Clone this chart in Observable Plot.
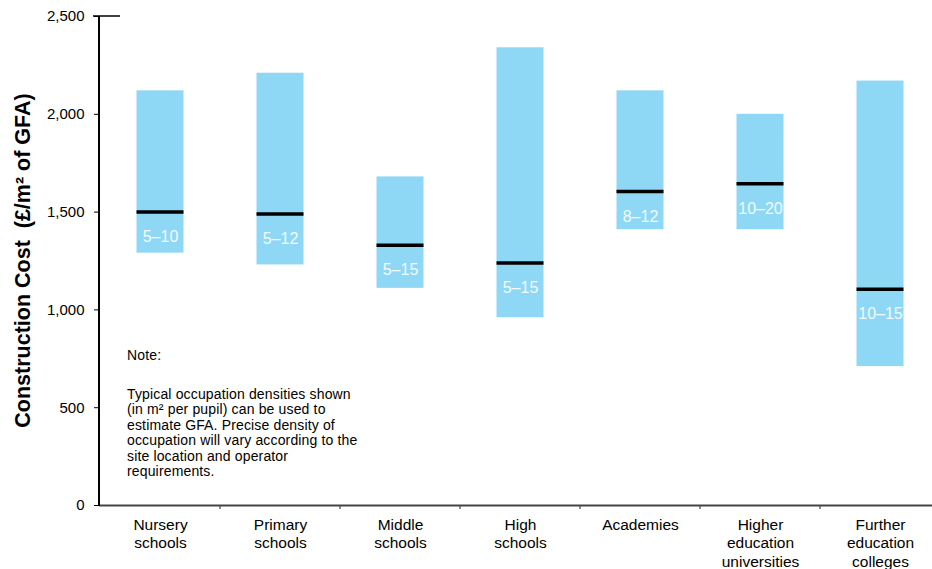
<!DOCTYPE html>
<html>
<head>
<meta charset="utf-8">
<script src="https://cdn.jsdelivr.net/npm/d3@7"></script>
<script src="https://cdn.jsdelivr.net/npm/@observablehq/plot@0.6"></script>
<style>
  body { margin: 0; background: #fff; }
  #wrap { position: relative; width: 932px; height: 569px; font-family: "Liberation Sans", Arial, sans-serif; }
  #note { position: absolute; left: 127px; top: 348px; font-size: 14px; line-height: 15.5px; letter-spacing: 0.15px; color: #000; width: 260px; }
  #note .gap { height: 23px; }
  svg { overflow: visible; }
</style>
</head>
<body>
<div id="wrap">
  <div id="chart"></div>
  <div id="note">Note:<div class="gap"></div>Typical occupation densities shown<br>(in m² per pupil) can be used to<br>estimate GFA. Precise density of<br>occupation will vary according to the<br>site location and operator<br>requirements.</div>
</div>
<script>
const categories = ["Nursery schools", "Primary schools", "Middle schools", "High schools", "Academies", "Higher education universities", "Further education colleges"];
const categoryLabels = ["Nursery\nschools", "Primary\nschools", "Middle\nschools", "High\nschools", "Academies", "Higher\neducation\nuniversities", "Further\neducation\ncolleges"];
const lowCost = [1290, 1230, 1110, 960, 1410, 1410, 710];
const highCost = [2120, 2210, 1680, 2340, 2120, 2000, 2170];
const typicalCost = [1500, 1490, 1330, 1240, 1605, 1645, 1105];
const densityLabels = ["5–10", "5–12", "5–15", "5–15", "8–12", "10–20", "10–15"];
const yTicks = [0, 500, 1000, 1500, 2000, 2500];

const data = categories.map((c, i) => ({
  cat: c, label: categoryLabels[i], low: lowCost[i], high: highCost[i],
  mid: typicalCost[i], density: densityLabels[i]
}));

const font = '"Liberation Sans", Arial, sans-serif';
const inset = 36.5;

const chart = Plot.plot({
  width: 932,
  height: 569,
  marginLeft: 99,
  marginRight: 0,
  marginTop: 16,
  marginBottom: 64,
  style: { fontFamily: font, background: "transparent", overflow: "visible" },
  x: { type: "band", domain: categories, range: [98.5, 941.5], padding: 0, axis: null },
  y: { domain: [0, 2500], axis: null },
  marks: [
    Plot.barY(data, { x: "cat", y1: "low", y2: "high", fill: "#8fd8f5", insetLeft: inset, insetRight: inset }),
    Plot.tickY(data, { x: "cat", y: "mid", stroke: "#000", strokeWidth: 3.5, insetLeft: inset, insetRight: inset }),
    Plot.text(data, { x: "cat", y: "mid", text: "density", dy: 25, fill: "#f2fbff", fontSize: 16, fontFamily: font }),
    Plot.ruleY([0], { stroke: "#444", strokeWidth: 2 }),
    Plot.axisY({ ticks: yTicks, tickFormat: d3.format(","), tickSize: 5, tickPadding: 10, fontSize: 15, label: null, color: "#000" }),
    Plot.text(data, { x: "cat", y: 0, text: "label", lineAnchor: "top", dy: 11.5, fontSize: 15.5, lineHeight: 1.18, fill: "#000", fontFamily: font })
  ]
});

document.getElementById("chart").appendChild(chart);

// decorations positioned from the chart's own scales
const xs = chart.scale("x");
const ys = chart.scale("y");
const svg = d3.select(chart);
const y0 = ys.apply(0), yTop = ys.apply(2500);
const left = 99;
svg.append("line").attr("x1", left).attr("x2", left).attr("y1", yTop).attr("y2", y0 + 1)
  .attr("stroke", "#000").attr("stroke-width", 2);
svg.append("line").attr("x1", left - 6).attr("x2", left + 21).attr("y1", yTop).attr("y2", yTop)
  .attr("stroke", "#000").attr("stroke-width", 1.5);
categories.slice(0, -1).forEach(c => {
  const bx = xs.apply(c) + xs.bandwidth;
  svg.append("line").attr("x1", bx).attr("x2", bx).attr("y1", y0).attr("y2", y0 + 4)
    .attr("stroke", "#444").attr("stroke-width", 1.2);
});
svg.append("text")
  .attr("transform", `translate(23,${(y0 + yTop) / 2}) rotate(-90)`)
  .attr("text-anchor", "middle").attr("dominant-baseline", "central")
  .attr("font-family", font).attr("font-weight", "bold").attr("font-size", 21.5).attr("fill", "#000")
  .text("Construction Cost  (£/m² of GFA)");
</script>
</body>
</html>
